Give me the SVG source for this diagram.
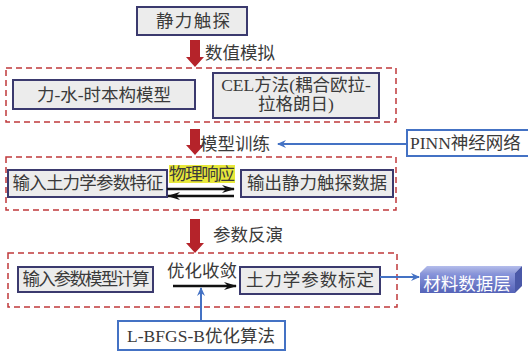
<svg xmlns="http://www.w3.org/2000/svg" width="528" height="352" viewBox="0 0 528 352">
<defs>
<style>
text{font-family:"Liberation Serif","Noto Sans CJK SC",serif;font-size:17.5px;fill:#3a3a3a;}
.c{text-anchor:middle;}
.node{fill:#ececec;stroke:#3b3a6e;stroke-width:2;}
.dash{fill:none;stroke:#c0393b;stroke-width:1.5;stroke-dasharray:6 4;}
.red{fill:#b5232a;}
.blue{stroke:#4472c4;stroke-width:2;fill:none;}
.bbox{fill:#fff;stroke:#4472c4;stroke-width:2;}
.blk{stroke:#111;stroke-width:2.5;fill:none;}
</style>
<marker id="ab" markerWidth="10" markerHeight="10" refX="8" refY="5" orient="auto" markerUnits="userSpaceOnUse"><path d="M0,1 L9,5 L0,9 L3,5 Z" fill="#4472c4"/></marker>
<marker id="ak" markerWidth="14" markerHeight="10" refX="12" refY="5" orient="auto" markerUnits="userSpaceOnUse"><path d="M0,1 L13,5 L0,9 L4,5 Z" fill="#111"/></marker>
<linearGradient id="g1" x1="0" y1="0" x2="0" y2="1"><stop offset="0" stop-color="#8b97dc"/><stop offset="1" stop-color="#5563b8"/></linearGradient>
<linearGradient id="g2" x1="0" y1="0" x2="0" y2="1"><stop offset="0" stop-color="#b4bdec"/><stop offset="1" stop-color="#8e99d8"/></linearGradient>
</defs>

<g id="dashed-groups">
<rect class="dash" x="6" y="68" width="390" height="54"/>
<rect class="dash" x="6" y="157" width="390" height="53"/>
<rect class="dash" x="8" y="253" width="389" height="54"/>
</g>

<g id="n-static">
<rect class="node" x="137" y="7" width="110" height="28"/>
<text class="c" x="193" y="27" textLength="74">静力触探</text>
</g>
<g id="n-model1">
<rect class="node" x="13" y="80" width="182" height="29"/>
<text class="c" x="104" y="101">力-水-时本构模型</text>
</g>
<g id="n-cel">
<rect class="node" x="213" y="73" width="166" height="45"/>
<text class="c" x="296" y="91">CEL方法(耦合欧拉-</text>
<text class="c" x="296" y="110">拉格朗日)</text>
</g>
<g id="n-input">
<rect class="node" x="8" y="170" width="159" height="27"/>
<text class="c" x="88" y="189" textLength="151">输入土力学参数特征</text>
</g>
<g id="n-output">
<rect class="node" x="241" y="170" width="152" height="27"/>
<text class="c" x="317" y="189">输出静力触探数据</text>
</g>
<g id="n-pinn">
<rect class="bbox" x="407" y="130" width="125" height="26"/>
<text x="410" y="149">PINN神经网络</text>
</g>
<g id="n-calc">
<rect class="node" x="18" y="267" width="135" height="25"/>
<text class="c" x="86" y="285" textLength="127">输入参数模型计算</text>
</g>
<g id="n-calib">
<rect class="node" x="240" y="267" width="140" height="27"/>
<text class="c" x="310" y="286" textLength="128">土力学参数标定</text>
</g>
<g id="n-lbfgs">
<rect class="bbox" x="118" y="321" width="167" height="29"/>
<text class="c" x="201" y="342">L-BFGS-B优化算法</text>
</g>
<g id="n-material">
<polygon points="420,273 427,266 522,266 515,273" fill="url(#g2)"/>
<polygon points="515,273 522,266 522,286 515,293" fill="#4a58a8"/>
<rect x="420" y="273" width="95" height="20" fill="url(#g1)"/>
<text class="c" x="467" y="290" style="fill:#fff">材料数据层</text>
</g>

<g id="connectors">
<path class="red" d="M190,40 H200 V57 H204 L195,67 L186,57 H190 Z"/>
<text x="205" y="59">数值模拟</text>
<path class="red" d="M190,129 H200 V145 H204 L195,155 L186,145 H190 Z"/>
<text x="200" y="150">模型训练</text>
<path class="red" d="M190,219 H200 V243 H204 L195,253 L186,243 H190 Z"/>
<text x="213" y="241">参数反演</text>

<path class="blue" d="M407,144 H278" marker-end="url(#ab)"/>

<rect x="169" y="165" width="66" height="18" fill="#e8e83a"/>
<text class="c" x="202" y="180" textLength="66">物理响应</text>
<path class="blk" d="M167,189 H234" marker-end="url(#ak)"/>
<path class="blk" d="M234,196 H168" marker-end="url(#ak)"/>

<text class="c" x="202" y="277">优化收敛</text>
<path class="blk" d="M173,286 H236" marker-end="url(#ak)"/>
<path class="blue" d="M201,321 V288" marker-end="url(#ab)"/>
<path class="blue" d="M380,277 H419" marker-end="url(#ab)"/>
</g>
</svg>
